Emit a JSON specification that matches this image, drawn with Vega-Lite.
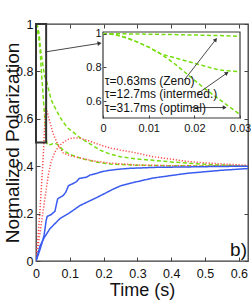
{
"$schema":"https://vega.github.io/schema/vega-lite/v6.json",
"width":212,"height":237,
"autosize":{"type":"none"},
"padding":{"left":36,"top":24,"right":3,"bottom":39},
"background":"white",
"config":{
 "view":{"stroke":"#3a3a3a","strokeWidth":1.3},
 "axis":{"grid":false,"domain":false,"labelFont":"Liberation Sans Narrow, Liberation Sans","labelColor":"#111","tickColor":"#444","labelFlush":false,"titleFont":"Liberation Sans","titleFontWeight":"normal","titleColor":"#111"},
 "text":{"font":"Liberation Sans Narrow, Liberation Sans","color":"#111"}
},
"datasets":{
 "curves":[
  {"group":"A","tau":"12.7ms","t":0,"v":1},{"group":"A","tau":"12.7ms","t":0.005,"v":0.99},{"group":"A","tau":"12.7ms","t":0.01,"v":0.95},{"group":"A","tau":"12.7ms","t":0.0127,"v":0.9},{"group":"A","tau":"12.7ms","t":0.02,"v":0.83},{"group":"A","tau":"12.7ms","t":0.0254,"v":0.78},{"group":"A","tau":"12.7ms","t":0.03,"v":0.765},{"group":"A","tau":"12.7ms","t":0.038,"v":0.72},{"group":"A","tau":"12.7ms","t":0.045,"v":0.68},{"group":"A","tau":"12.7ms","t":0.056,"v":0.647},{"group":"A","tau":"12.7ms","t":0.07,"v":0.61},{"group":"A","tau":"12.7ms","t":0.08,"v":0.587},{"group":"A","tau":"12.7ms","t":0.095,"v":0.56},{"group":"A","tau":"12.7ms","t":0.109,"v":0.545},{"group":"A","tau":"12.7ms","t":0.13,"v":0.52},{"group":"A","tau":"12.7ms","t":0.151,"v":0.502},{"group":"A","tau":"12.7ms","t":0.17,"v":0.485},{"group":"A","tau":"12.7ms","t":0.189,"v":0.468},{"group":"A","tau":"12.7ms","t":0.219,"v":0.451},{"group":"A","tau":"12.7ms","t":0.249,"v":0.44},{"group":"A","tau":"12.7ms","t":0.3,"v":0.43},{"group":"A","tau":"12.7ms","t":0.346,"v":0.425},{"group":"A","tau":"12.7ms","t":0.4,"v":0.418},{"group":"A","tau":"12.7ms","t":0.447,"v":0.413},{"group":"A","tau":"12.7ms","t":0.5,"v":0.408},{"group":"A","tau":"12.7ms","t":0.55,"v":0.405},{"group":"A","tau":"12.7ms","t":0.627,"v":0.4},
  {"group":"A","tau":"31.7ms","t":0,"v":1},{"group":"A","tau":"31.7ms","t":0.008,"v":0.945},{"group":"A","tau":"31.7ms","t":0.012,"v":0.89},{"group":"A","tau":"31.7ms","t":0.016,"v":0.8},{"group":"A","tau":"31.7ms","t":0.02,"v":0.72},{"group":"A","tau":"31.7ms","t":0.024,"v":0.64},{"group":"A","tau":"31.7ms","t":0.027,"v":0.58},{"group":"A","tau":"31.7ms","t":0.03,"v":0.52},{"group":"A","tau":"31.7ms","t":0.033,"v":0.49},{"group":"A","tau":"31.7ms","t":0.04,"v":0.49},{"group":"A","tau":"31.7ms","t":0.05,"v":0.495},{"group":"A","tau":"31.7ms","t":0.056,"v":0.497},{"group":"A","tau":"31.7ms","t":0.065,"v":0.49},{"group":"A","tau":"31.7ms","t":0.08,"v":0.468},{"group":"A","tau":"31.7ms","t":0.1,"v":0.45},{"group":"A","tau":"31.7ms","t":0.13,"v":0.434},{"group":"A","tau":"31.7ms","t":0.18,"v":0.417},{"group":"A","tau":"31.7ms","t":0.22,"v":0.409},{"group":"A","tau":"31.7ms","t":0.3,"v":0.404},{"group":"A","tau":"31.7ms","t":0.4,"v":0.402},{"group":"A","tau":"31.7ms","t":0.5,"v":0.401},{"group":"A","tau":"31.7ms","t":0.627,"v":0.4},
  {"group":"B","tau":"31.7ms","t":0,"v":0},{"group":"B","tau":"31.7ms","t":0.006,"v":0.1},{"group":"B","tau":"31.7ms","t":0.012,"v":0.22},{"group":"B","tau":"31.7ms","t":0.018,"v":0.36},{"group":"B","tau":"31.7ms","t":0.022,"v":0.46},{"group":"B","tau":"31.7ms","t":0.025,"v":0.55},{"group":"B","tau":"31.7ms","t":0.028,"v":0.645},{"group":"B","tau":"31.7ms","t":0.032,"v":0.635},{"group":"B","tau":"31.7ms","t":0.041,"v":0.587},{"group":"B","tau":"31.7ms","t":0.05,"v":0.54},{"group":"B","tau":"31.7ms","t":0.062,"v":0.5},{"group":"B","tau":"31.7ms","t":0.08,"v":0.456},{"group":"B","tau":"31.7ms","t":0.1,"v":0.445},{"group":"B","tau":"31.7ms","t":0.13,"v":0.435},{"group":"B","tau":"31.7ms","t":0.17,"v":0.422},{"group":"B","tau":"31.7ms","t":0.219,"v":0.413},{"group":"B","tau":"31.7ms","t":0.3,"v":0.405},{"group":"B","tau":"31.7ms","t":0.4,"v":0.402},{"group":"B","tau":"31.7ms","t":0.5,"v":0.401},{"group":"B","tau":"31.7ms","t":0.627,"v":0.4},
  {"group":"B","tau":"12.7ms","t":0,"v":0},{"group":"B","tau":"12.7ms","t":0.01,"v":0.1},{"group":"B","tau":"12.7ms","t":0.02,"v":0.2},{"group":"B","tau":"12.7ms","t":0.03,"v":0.3},{"group":"B","tau":"12.7ms","t":0.036,"v":0.36},{"group":"B","tau":"12.7ms","t":0.045,"v":0.42},{"group":"B","tau":"12.7ms","t":0.056,"v":0.46},{"group":"B","tau":"12.7ms","t":0.068,"v":0.485},{"group":"B","tau":"12.7ms","t":0.08,"v":0.5},{"group":"B","tau":"12.7ms","t":0.095,"v":0.513},{"group":"B","tau":"12.7ms","t":0.109,"v":0.52},{"group":"B","tau":"12.7ms","t":0.13,"v":0.518},{"group":"B","tau":"12.7ms","t":0.151,"v":0.51},{"group":"B","tau":"12.7ms","t":0.17,"v":0.5},{"group":"B","tau":"12.7ms","t":0.189,"v":0.49},{"group":"B","tau":"12.7ms","t":0.219,"v":0.477},{"group":"B","tau":"12.7ms","t":0.249,"v":0.468},{"group":"B","tau":"12.7ms","t":0.3,"v":0.455},{"group":"B","tau":"12.7ms","t":0.346,"v":0.44},{"group":"B","tau":"12.7ms","t":0.4,"v":0.43},{"group":"B","tau":"12.7ms","t":0.447,"v":0.42},{"group":"B","tau":"12.7ms","t":0.5,"v":0.414},{"group":"B","tau":"12.7ms","t":0.544,"v":0.41},{"group":"B","tau":"12.7ms","t":0.627,"v":0.404},
  {"group":"C","tau":"31.7ms","t":0,"v":0},{"group":"C","tau":"31.7ms","t":0.01,"v":0.04},{"group":"C","tau":"31.7ms","t":0.018,"v":0.077},{"group":"C","tau":"31.7ms","t":0.024,"v":0.11},{"group":"C","tau":"31.7ms","t":0.03,"v":0.17},{"group":"C","tau":"31.7ms","t":0.033,"v":0.188},{"group":"C","tau":"31.7ms","t":0.045,"v":0.196},{"group":"C","tau":"31.7ms","t":0.056,"v":0.21},{"group":"C","tau":"31.7ms","t":0.064,"v":0.262},{"group":"C","tau":"31.7ms","t":0.08,"v":0.276},{"group":"C","tau":"31.7ms","t":0.088,"v":0.29},{"group":"C","tau":"31.7ms","t":0.096,"v":0.318},{"group":"C","tau":"31.7ms","t":0.11,"v":0.327},{"group":"C","tau":"31.7ms","t":0.12,"v":0.335},{"group":"C","tau":"31.7ms","t":0.128,"v":0.348},{"group":"C","tau":"31.7ms","t":0.15,"v":0.354},{"group":"C","tau":"31.7ms","t":0.16,"v":0.363},{"group":"C","tau":"31.7ms","t":0.18,"v":0.37},{"group":"C","tau":"31.7ms","t":0.195,"v":0.377},{"group":"C","tau":"31.7ms","t":0.219,"v":0.383},{"group":"C","tau":"31.7ms","t":0.25,"v":0.388},{"group":"C","tau":"31.7ms","t":0.278,"v":0.391},{"group":"C","tau":"31.7ms","t":0.35,"v":0.395},{"group":"C","tau":"31.7ms","t":0.45,"v":0.397},{"group":"C","tau":"31.7ms","t":0.55,"v":0.399},{"group":"C","tau":"31.7ms","t":0.627,"v":0.4},
  {"group":"C","tau":"12.7ms","t":0,"v":0},{"group":"C","tau":"12.7ms","t":0.012,"v":0.064},{"group":"C","tau":"12.7ms","t":0.025,"v":0.1},{"group":"C","tau":"12.7ms","t":0.041,"v":0.136},{"group":"C","tau":"12.7ms","t":0.071,"v":0.179},{"group":"C","tau":"12.7ms","t":0.1,"v":0.204},{"group":"C","tau":"12.7ms","t":0.13,"v":0.234},{"group":"C","tau":"12.7ms","t":0.18,"v":0.268},{"group":"C","tau":"12.7ms","t":0.228,"v":0.303},{"group":"C","tau":"12.7ms","t":0.25,"v":0.317},{"group":"C","tau":"12.7ms","t":0.278,"v":0.328},{"group":"C","tau":"12.7ms","t":0.346,"v":0.35},{"group":"C","tau":"12.7ms","t":0.447,"v":0.37},{"group":"C","tau":"12.7ms","t":0.55,"v":0.383},{"group":"C","tau":"12.7ms","t":0.627,"v":0.39}
 ],
 "inset":[
  {"tau":"0.63ms","t":0,"v":1},{"tau":"0.63ms","t":0.005,"v":0.999},{"tau":"0.63ms","t":0.01,"v":0.997},{"tau":"0.63ms","t":0.015,"v":0.995},{"tau":"0.63ms","t":0.02,"v":0.992},{"tau":"0.63ms","t":0.025,"v":0.989},{"tau":"0.63ms","t":0.03,"v":0.985},
  {"tau":"12.7ms","t":0,"v":1},{"tau":"12.7ms","t":0.002,"v":0.997},{"tau":"12.7ms","t":0.004,"v":0.985},{"tau":"12.7ms","t":0.006,"v":0.967},{"tau":"12.7ms","t":0.008,"v":0.945},{"tau":"12.7ms","t":0.01,"v":0.92},{"tau":"12.7ms","t":0.0127,"v":0.88},{"tau":"12.7ms","t":0.014,"v":0.87},{"tau":"12.7ms","t":0.016,"v":0.855},{"tau":"12.7ms","t":0.018,"v":0.84},{"tau":"12.7ms","t":0.02,"v":0.825},{"tau":"12.7ms","t":0.022,"v":0.81},{"tau":"12.7ms","t":0.024,"v":0.795},{"tau":"12.7ms","t":0.0254,"v":0.785},{"tau":"12.7ms","t":0.027,"v":0.78},{"tau":"12.7ms","t":0.03,"v":0.775},
  {"tau":"31.7ms","t":0,"v":1},{"tau":"31.7ms","t":0.002,"v":0.997},{"tau":"31.7ms","t":0.004,"v":0.985},{"tau":"31.7ms","t":0.006,"v":0.967},{"tau":"31.7ms","t":0.008,"v":0.945},{"tau":"31.7ms","t":0.01,"v":0.92},{"tau":"31.7ms","t":0.012,"v":0.89},{"tau":"31.7ms","t":0.014,"v":0.855},{"tau":"31.7ms","t":0.016,"v":0.815},{"tau":"31.7ms","t":0.018,"v":0.77},{"tau":"31.7ms","t":0.02,"v":0.725},{"tau":"31.7ms","t":0.022,"v":0.68},{"tau":"31.7ms","t":0.024,"v":0.64},{"tau":"31.7ms","t":0.026,"v":0.6},{"tau":"31.7ms","t":0.028,"v":0.56},{"tau":"31.7ms","t":0.03,"v":0.52}
 ],
 "arrows":[
  {"panel":"main","id":"zoom","t1":0.027,"v1":0.882,"t2":0.186,"v2":0.918},
  {"panel":"inset","id":"zeno","t1":0.0178,"v1":0.725,"t2":0.0246,"v2":0.962},
  {"panel":"inset","id":"int","t1":0.0206,"v1":0.642,"t2":0.027,"v2":0.764},
  {"panel":"inset","id":"opt","t1":0.0192,"v1":0.562,"t2":0.0265,"v2":0.562}
 ],
 "notes":[
  {"text":"τ=0.63ms (Zeno)","t":0.0004,"v":0.722},
  {"text":"τ=12.7ms (intermed.)","t":0.0004,"v":0.644},
  {"text":"τ=31.7ms (optimal)","t":0.0004,"v":0.562}
 ]
},
"layer":[
 {"data":{"name":"curves"},"mark":{"type":"line","clip":true,"strokeWidth":1.5},
  "encoding":{
   "x":{"field":"t","type":"quantitative","scale":{"domain":[0,0.627],"nice":false,"zero":false},"axis":{"orient":"bottom","values":[0,0.1,0.2,0.3,0.4,0.5,0.6],"format":"~g","tickSize":-4,"labelPadding":10,"labelFontSize":12.5,"title":"Time (s)","titleFontSize":18,"titlePadding":2}},
   "y":{"field":"v","type":"quantitative","scale":{"domain":[0,1],"nice":false,"zero":false},"axis":{"orient":"left","values":[0,0.2,0.4,0.6,0.8,1],"format":"~g","tickSize":-4,"labelPadding":7,"labelFontSize":12.5,"title":"Normalized Polarization","titleFontSize":19,"titlePadding":-7}},
   "color":{"field":"group","type":"nominal","scale":{"domain":["A","B","C"],"range":["#77dd11","#ff4d4d","#3a5bef"]},"legend":null},
   "strokeDash":{"field":"group","type":"nominal","scale":{"domain":["A","B","C"],"range":[[4,2.5],[1.2,1.8],[1,0]]},"legend":null},
   "detail":{"field":"tau"}
  }},
 {"data":{"values":[{}]},"mark":{"type":"rect","filled":false,"stroke":"#333","strokeWidth":2},
  "encoding":{
   "x":{"datum":0,"type":"quantitative","scale":{"domain":[0,0.627],"nice":false,"zero":false},"axis":null},
   "x2":{"datum":0.03},
   "y":{"datum":0.5,"type":"quantitative","scale":{"domain":[0,1],"nice":false,"zero":false},"axis":null},
   "y2":{"datum":1}
  }},
 {"data":{"name":"arrows"},"transform":[{"filter":"datum.panel == 'main'"}],"mark":{"type":"rule","color":"#333","strokeWidth":0.9},
  "encoding":{
   "x":{"field":"t1","type":"quantitative","scale":{"domain":[0,0.627],"nice":false,"zero":false},"axis":{"orient":"top","values":[0,0.1,0.2,0.3,0.4,0.5,0.6],"labels":false,"tickSize":-4,"title":null}},
   "y":{"field":"v1","type":"quantitative","scale":{"domain":[0,1],"nice":false,"zero":false},"axis":{"orient":"right","values":[0,0.2,0.4,0.6,0.8,1],"labels":false,"tickSize":-4,"title":null}},
   "x2":{"field":"t2"},"y2":{"field":"v2"}}},
 {"data":{"name":"arrows"},"transform":[{"filter":"datum.panel == 'main'"}],"mark":{"type":"point","shape":"triangle","filled":true,"color":"#333","opacity":1,"size":22,"angle":81},
  "encoding":{
   "x":{"field":"t2","type":"quantitative","scale":{"domain":[0,0.627],"nice":false,"zero":false},"axis":null},
   "y":{"field":"v2","type":"quantitative","scale":{"domain":[0,1],"nice":false,"zero":false},"axis":null}}},
 {"data":{"values":[{}]},"mark":{"type":"text","text":"b)","fontSize":19,"font":"Liberation Sans","align":"center","baseline":"middle"},
  "encoding":{
   "x":{"datum":0.599,"type":"quantitative","scale":{"domain":[0,0.627],"nice":false,"zero":false},"axis":null},
   "y":{"datum":0.046,"type":"quantitative","scale":{"domain":[0,1],"nice":false,"zero":false},"axis":null}}},
 {"data":{"values":[{}]},"mark":{"type":"rect","fill":"white","stroke":"#3a3a3a","strokeWidth":1.2},
  "encoding":{
   "x":{"datum":0,"type":"quantitative","scale":{"domain":[0,0.03],"range":[67,204],"nice":false,"zero":false},"axis":null},
   "x2":{"datum":0.03},
   "y":{"datum":0.5,"type":"quantitative","scale":{"domain":[0.5,1.01],"range":[94,8],"nice":false,"zero":false},"axis":null},
   "y2":{"datum":1.01}
  }},
 {"data":{"name":"inset"},"mark":{"type":"line","strokeDash":[4,2.5],"color":"#77dd11","strokeWidth":1.5},
  "encoding":{
   "x":{"field":"t","type":"quantitative","scale":{"domain":[0,0.03],"range":[67,204],"nice":false,"zero":false},"axis":{"orient":"bottom","offset":-143,"values":[0,0.01,0.02,0.03],"format":"~g","tickSize":-3,"labelPadding":7,"labelFontSize":11,"zindex":2,"title":null}},
   "y":{"field":"v","type":"quantitative","scale":{"domain":[0.5,1.01],"range":[94,8],"nice":false,"zero":false},"axis":{"orient":"left","offset":-67,"values":[0.6,0.8,1],"format":"~g","tickSize":-3,"labelPadding":5,"labelFontSize":11,"zindex":2,"title":null}},
   "detail":{"field":"tau"}}},
 {"data":{"name":"arrows"},"transform":[{"filter":"datum.panel == 'inset'"}],"mark":{"type":"rule","color":"#333","strokeWidth":0.9},
  "encoding":{
   "x":{"field":"t1","type":"quantitative","scale":{"domain":[0,0.03],"range":[67,204],"nice":false,"zero":false},"axis":null},
   "y":{"field":"v1","type":"quantitative","scale":{"domain":[0.5,1.01],"range":[94,8],"nice":false,"zero":false},"axis":null},
   "x2":{"field":"t2"},"y2":{"field":"v2"}}},
 {"data":{"name":"arrows"},"transform":[{"filter":"datum.id == 'zeno'"}],"mark":{"type":"point","shape":"triangle","filled":true,"color":"#333","opacity":1,"size":20,"angle":40},
  "encoding":{
   "x":{"field":"t2","type":"quantitative","scale":{"domain":[0,0.03],"range":[67,204],"nice":false,"zero":false},"axis":null},
   "y":{"field":"v2","type":"quantitative","scale":{"domain":[0.5,1.01],"range":[94,8],"nice":false,"zero":false},"axis":null}}},
 {"data":{"name":"arrows"},"transform":[{"filter":"datum.id == 'int'"}],"mark":{"type":"point","shape":"triangle","filled":true,"color":"#333","opacity":1,"size":20,"angle":56},
  "encoding":{
   "x":{"field":"t2","type":"quantitative","scale":{"domain":[0,0.03],"range":[67,204],"nice":false,"zero":false},"axis":null},
   "y":{"field":"v2","type":"quantitative","scale":{"domain":[0.5,1.01],"range":[94,8],"nice":false,"zero":false},"axis":null}}},
 {"data":{"name":"arrows"},"transform":[{"filter":"datum.id == 'opt'"}],"mark":{"type":"point","shape":"triangle","filled":true,"color":"#333","opacity":1,"size":20,"angle":90},
  "encoding":{
   "x":{"field":"t2","type":"quantitative","scale":{"domain":[0,0.03],"range":[67,204],"nice":false,"zero":false},"axis":null},
   "y":{"field":"v2","type":"quantitative","scale":{"domain":[0.5,1.01],"range":[94,8],"nice":false,"zero":false},"axis":null}}},
 {"data":{"name":"notes"},"mark":{"type":"text","align":"left","baseline":"middle","fontSize":12},
  "encoding":{
   "x":{"field":"t","type":"quantitative","scale":{"domain":[0,0.03],"range":[67,204],"nice":false,"zero":false},"axis":null},
   "y":{"field":"v","type":"quantitative","scale":{"domain":[0.5,1.01],"range":[94,8],"nice":false,"zero":false},"axis":null},
   "text":{"field":"text"}}}
],
"resolve":{"scale":{"x":"independent","y":"independent"},"axis":{"x":"independent","y":"independent"}}
}
